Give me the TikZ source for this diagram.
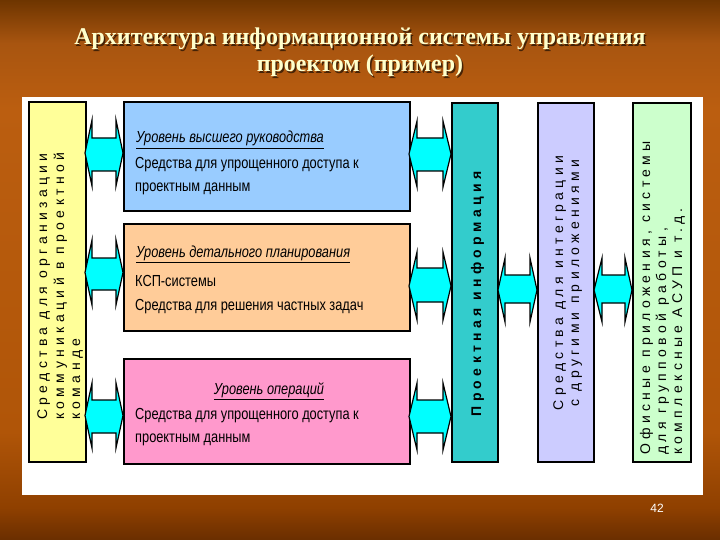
\documentclass[tikz,border=0pt]{standalone}
\usepackage{fontspec}
\setmainfont{Liberation Serif}
\newfontfamily\boxfont[FakeStretch=0.8]{Liberation Sans}
\newfontfamily\vfont[LetterSpace=31]{Liberation Sans}
\newfontfamily\plainsans{Liberation Sans}
\definecolor{c0}{HTML}{6A2E00}
\definecolor{c1}{HTML}{8F4000}
\definecolor{c2}{HTML}{B05508}
\definecolor{c3}{HTML}{BB5E10}
\definecolor{c4}{HTML}{A85510}
\definecolor{c5}{HTML}{6E3500}
\definecolor{titlecol}{HTML}{FFFFCC}
\definecolor{ylw}{HTML}{FFFF99}
\definecolor{blu}{HTML}{99CCFF}
\definecolor{org}{HTML}{FFCC99}
\definecolor{pnk}{HTML}{FF99CC}
\definecolor{tea}{HTML}{33CCCC}
\definecolor{lav}{HTML}{CCCCFF}
\definecolor{grn}{HTML}{CCFFCC}
\definecolor{arr}{HTML}{00FFFF}
\pgfdeclareverticalshading{slidebg}{100bp}{color(0bp)=(c0); color(25bp)=(c0); color(28bp)=(c1); color(35bp)=(c2); color(65bp)=(c3); color(71bp)=(c4); color(75bp)=(c5); color(100bp)=(c5)}
\tikzset{
  panel/.style={draw=black, line width=1.6pt, anchor=north west, inner sep=0pt},
  arrowbox/.style={draw=black, line width=1.2pt, fill=arr, line join=miter},
  boxtxt/.style={anchor=base west, inner sep=0pt, font=\boxfont\fontsize{16}{18}\selectfont},
  vtxt/.style={rotate=90, inner sep=0pt, font=\vfont\fontsize{14}{16}\selectfont},
  titletxt/.style={anchor=base, inner sep=0pt, font=\bfseries\fontsize{24}{28}\selectfont}
}
\newcommand\dblarr[8]{%
  \draw[arrowbox] (#1,{(#5+#8)/2}) -- (#2,#5) -- (#2,#6) -- (#3,#6) -- (#3,#5) -- (#4,{(#5+#8)/2})
   -- (#3,#8) -- (#3,#7) -- (#2,#7) -- (#2,#8) -- cycle;}
\begin{document}
\begin{tikzpicture}[x=1pt,y=-1pt]
\useasboundingbox (0,0) rectangle (720,540);
\shade[shading=slidebg] (0,0) rectangle (720,540);
\fill[white] (22,97) rectangle (703,495);
% title
\foreach \t/\yy [count=\i] in {{Архитектура информационной системы управления}/45,{проектом (пример)}/72}{
  \node[titletxt, text=black, opacity=0.6] at (361.5,\yy+1.5) {\t};
  \node[titletxt, text=titlecol] (title\i) at (360,\yy) {\t};
}
% boxes
\node[panel, fill=ylw, minimum width=57pt, minimum height=360pt] (comm) at (28,101) {};
\node[panel, fill=blu, minimum width=286pt, minimum height=109pt] (top) at (123,101) {};
\node[panel, fill=org, minimum width=286pt, minimum height=107pt] (mid) at (123,223) {};
\node[panel, fill=pnk, minimum width=286pt, minimum height=105pt] (ops) at (123,358) {};
\node[panel, fill=tea, minimum width=46pt, minimum height=359pt] (info) at (451,102) {};
\node[panel, fill=lav, minimum width=56pt, minimum height=359pt] (integ) at (537,102) {};
\node[panel, fill=grn, minimum width=58pt, minimum height=359pt] (office) at (632,102) {};
% arrows
\dblarr{85}{92}{116}{123}{120}{138}{171}{186}
\dblarr{85}{92}{116}{123}{240}{258}{290}{305}
\dblarr{85}{92}{116}{123}{383}{400}{433}{448}
\dblarr{409}{417}{443}{451}{121}{138}{171}{187}
\dblarr{409}{417}{443}{451}{252}{268}{302}{320}
\dblarr{409}{417}{443}{451}{383}{400}{433}{450}
\dblarr{498}{505}{530}{537}{258}{275}{303}{322}
\dblarr{594}{602}{625}{632}{258}{275}{303}{322}
% box texts
\node[boxtxt] (t1) at (136,143) {\itshape\underline{Уровень высшего руководства}};
\node[boxtxt] (t2) at (135,169) {Средства для упрощенного доступа к};
\node[boxtxt] (t3) at (135,192) {проектным данным};
\node[boxtxt] (m1) at (136,257) {\itshape\underline{Уровень детального планирования}};
\node[boxtxt] (m2) at (135,286) {КСП-системы};
\node[boxtxt] (m3) at (135,310) {Средства для решения частных задач};
\node[boxtxt, anchor=base] (o1) at (269,394) {\itshape\underline{Уровень операций}};
\node[boxtxt] (o2) at (135,419) {Средства для упрощенного доступа к};
\node[boxtxt] (o3) at (135,442) {проектным данным};
% vertical texts
\node[vtxt, anchor=base west] (y1) at (47,420) {Средства для организации};
\node[vtxt, anchor=base west] (y2) at (64,420) {коммуникаций в проектной};
\node[vtxt, anchor=base west] (y3) at (80,420) {команде};
\node[vtxt, anchor=base, font=\vfont\bfseries\fontsize{14}{16}\selectfont] (i1) at (481,294) {Проектная информация};
\node[vtxt, anchor=base] (l1) at (563,283) {Средства для интеграции};
\node[vtxt, anchor=base] (l2) at (579,283) {с другими приложениями};
\node[vtxt, anchor=base west] (g1) at (650,455) {Офисные приложения, системы};
\node[vtxt, anchor=base west] (g2) at (666,455) {для групповой работы,};
\node[vtxt, anchor=base west] (g3) at (682,455) {комплексные АСУП и т.д.};
% page number
\node[text=white, font=\plainsans\fontsize{12}{14}\selectfont] (pg) at (657,508) {42};
\end{tikzpicture}
\end{document}
